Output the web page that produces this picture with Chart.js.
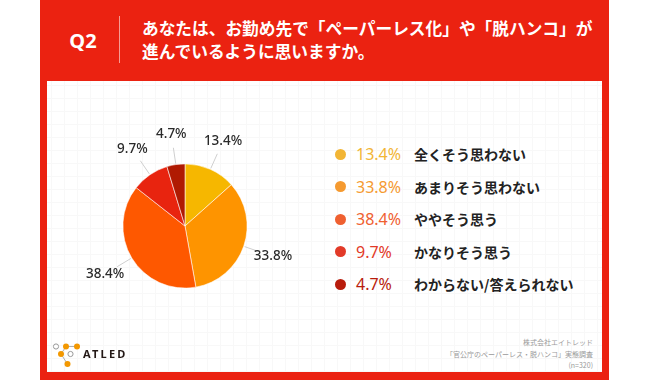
<!DOCTYPE html>
<html lang="ja">
<head>
<meta charset="utf-8">
<script src="https://cdn.jsdelivr.net/npm/chart.js@4/dist/chart.umd.min.js"></script>
<style>
  html, body { margin:0; padding:0; background:#fff; }
  body { width:650px; height:380px; position:relative; overflow:hidden; font-family:"Noto Sans CJK JP","Noto Sans",sans-serif; }
  #frame { position:absolute; left:40px; top:0; width:569px; height:380px; background:#EB2211; }
  #inner { position:absolute; left:47px; top:81px; width:555px; height:291px; background-color:#fff;
    background-image: linear-gradient(#f8f8f8 1px, transparent 1px), linear-gradient(90deg, #f8f8f8 1px, transparent 1px);
    background-size:13px 13px; background-position:4px 4px; }
  #q { position:absolute; left:63px; top:27px; width:40px; text-align:center; color:#fff; font:bold 20px "Noto Sans","Liberation Sans",sans-serif; line-height:28px; }
  #divider { position:absolute; left:119px; top:16px; width:1px; height:47px; background:rgba(255,255,255,0.55); }
  #title { position:absolute; left:142px; top:17px; color:#fff; font-weight:bold; font-size:16.7px; line-height:23px; white-space:nowrap; }
  #chartBox { position:absolute; left:65px; top:106px; width:240px; height:240px; }
  .row { position:absolute; left:335px; height:20px; white-space:nowrap; }
  .dot { position:absolute; left:0; top:4.5px; width:11px; height:11px; border-radius:50%; }
  .pct { position:absolute; left:21px; top:0; font:16px "Noto Sans",sans-serif; line-height:20px; }
  .lab { position:absolute; left:79px; top:0; font-weight:bold; font-size:14px; line-height:20px; color:#222; }
  #foot { position:absolute; right:57px; top:337px; text-align:right; color:#9a9a9a; font-size:7px; line-height:11.5px; }
  #logo { position:absolute; left:50px; top:340px; }
  #logoText { position:absolute; left:83px; top:347px; font:bold 11px "Noto Sans","Liberation Sans",sans-serif; letter-spacing:2.2px; color:#231815; line-height:14px; }
</style>
</head>
<body>
<div id="frame"></div>
<div id="inner"></div>
<div id="q">Q2</div>
<div id="divider"></div>
<div id="title">あなたは、お勤め先で「ペーパーレス化」や「脱ハンコ」が<br>進んでいるように思いますか。</div>
<div id="chartBox"><canvas id="c"></canvas></div>
<div id="legend"></div>
<svg id="logo" width="34" height="30" viewBox="0 0 34 30">
  <g stroke="#999" stroke-width="0.8" fill="none">
    <line x1="16" y1="6.5" x2="27" y2="6.5"/>
    <line x1="16" y1="6.5" x2="11" y2="14"/>
    <line x1="11" y1="14" x2="17.5" y2="24"/>
  </g>
  <circle cx="6" cy="6.5" r="2.6" fill="#fff" stroke="#999" stroke-width="1"/>
  <circle cx="16" cy="6.5" r="3" fill="#F39800"/>
  <circle cx="27" cy="6.5" r="3" fill="#F39800"/>
  <circle cx="11" cy="14" r="3" fill="#F39800"/>
  <circle cx="20.5" cy="14" r="2.6" fill="#fff" stroke="#999" stroke-width="1"/>
  <circle cx="17.5" cy="24" r="3" fill="#F39800"/>
</svg>
<div id="logoText">ATLED</div>
<div id="foot">株式会社エイトレッド<br>「官公庁のペーパーレス・脱ハンコ」実態調査<br>(n=320)</div>
<script>
// ---- data ----
const categories = ['全くそう思わない', 'あまりそう思わない', 'ややそう思う', 'かなりそう思う', 'わからない/答えられない'];
const values = [13.4, 33.8, 38.4, 9.7, 4.7];
const valueLabels = ['13.4%', '33.8%', '38.4%', '9.7%', '4.7%'];
// ---- styles ----
const sliceColors = ['#F6B700', '#FE9400', '#FE5800', '#E8240F', '#B01A02'];
const legendColors = ['#F2B535', '#F59A30', '#EF6030', '#E23A28', '#B81C0C'];

// legend (HTML, built from the arrays)
const legend = document.getElementById('legend');
categories.forEach((cat, i) => {
  const row = document.createElement('div');
  row.className = 'row';
  row.style.top = (144 + i * 32.5) + 'px';
  row.innerHTML = '<span class="dot" style="background:' + legendColors[i] + '"></span>' +
    '<span class="pct" style="color:' + legendColors[i] + '">' + valueLabels[i] + '</span>' +
    '<span class="lab">' + cat + '</span>';
  legend.appendChild(row);
});

const outsideLabels = {
  id: 'outsideLabels',
  afterDatasetsDraw(chart) {
    const ctx = chart.ctx;
    const meta = chart.getDatasetMeta(0);
    ctx.save();
    meta.data.forEach((arc, i) => {
      const p = arc.getProps(['x', 'y', 'startAngle', 'endAngle', 'outerRadius'], true);
      const a = (p.startAngle + p.endAngle) / 2;
      const r = p.outerRadius;
      const c = Math.cos(a), s = Math.sin(a);
      ctx.strokeStyle = '#cfcfcf';
      ctx.lineWidth = 1;
      ctx.beginPath();
      ctx.moveTo(p.x + c * (r + 1), p.y + s * (r + 1));
      ctx.lineTo(p.x + c * (r + 17), p.y + s * (r + 17));
      ctx.stroke();
      ctx.fillStyle = '#2a2a2a';
      ctx.font = '500 13.5px "Noto Sans", sans-serif';
      ctx.textAlign = 'center';
      ctx.textBaseline = 'middle';
      ctx.fillText(valueLabels[i], p.x + c * (r + 31), p.y + s * (r + 31));
    });
    ctx.restore();
  }
};

new Chart(document.getElementById('c'), {
  type: 'pie',
  data: {
    labels: categories,
    datasets: [{
      data: values,
      backgroundColor: sliceColors,
      borderColor: 'rgba(255,255,255,0.7)',
      borderWidth: 0.8
    }]
  },
  options: {
    responsive: true,
    maintainAspectRatio: false,
    animation: false,
    layout: { padding: 57.5 },
    plugins: { legend: { display: false }, tooltip: { enabled: false } }
  },
  plugins: [outsideLabels]
});
</script>
</body>
</html>
